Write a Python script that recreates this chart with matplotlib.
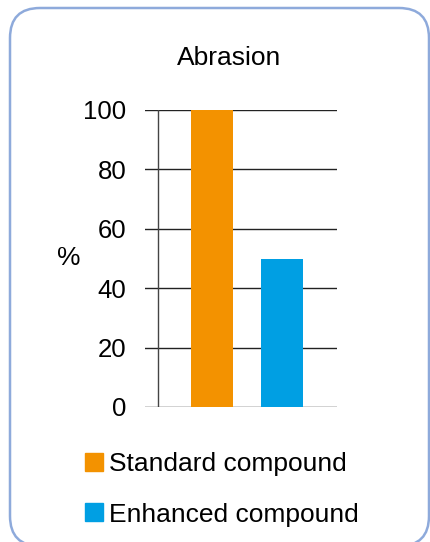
import matplotlib.pyplot as plt
from matplotlib.patches import FancyBboxPatch
from matplotlib.lines import Line2D

plt.rcParams['font.family'] = ['Liberation Sans', 'DejaVu Sans']

labels = ['Standard compound', 'Enhanced compound']
values = [100, 50]
colors = ['#f39200', '#009fe3']
yticks = [0, 20, 40, 60, 80, 100]

fig = plt.figure(figsize=(4.3, 5.42), dpi=100)
W, H = 430, 542

# rounded frame, in pixels (origin bottom left)
frame = FancyBboxPatch((10, -4), 419, 538,
                       boxstyle='round,pad=0,rounding_size=30',
                       transform=None, fill=False,
                       edgecolor='#8eaadb', linewidth=1.8)
fig.patches.append(frame)

ax = fig.add_axes([145 / W, (542 - 407) / H, (337 - 145) / W, (407 - 110) / H])
x = [0, 1]
ax.bar(x, values, width=0.6, color=colors, zorder=3)
ax.set_xlim(-0.957, 1.786)
ax.set_ylim(0, 100)
ax.set_yticks(yticks)
ax.set_xticks([])
ax.tick_params(axis='y', length=0, pad=13.5, labelsize=18.5)
for s in ax.spines.values():
    s.set_visible(False)
ax.yaxis.grid(True, color='#222222', linewidth=1.0, zorder=1)
ax.axvline(-0.771, color='#444444', linewidth=1.0, zorder=2)
ax.set_ylabel('%', rotation=0, fontsize=19, labelpad=0, ha='center', va='center')
ax.yaxis.set_label_coords(-0.396, (407 - 258) / 297)

fig.text(229 / W, 1 - 58 / H, 'Abrasion', fontsize=19, ha='center', va='center')

handles = [Line2D([], [], marker='s', linestyle='none', markersize=12.5,
                  markerfacecolor=c, markeredgecolor=c) for c in colors]
fig.legend(handles, labels, loc='upper left',
           bbox_to_anchor=(72 / W, 1 - 439 / H), frameon=False,
           fontsize=19, handlelength=0.7, handletextpad=0.2,
           labelspacing=1.0, borderpad=0)

fig.savefig('out.png', dpi=100)
